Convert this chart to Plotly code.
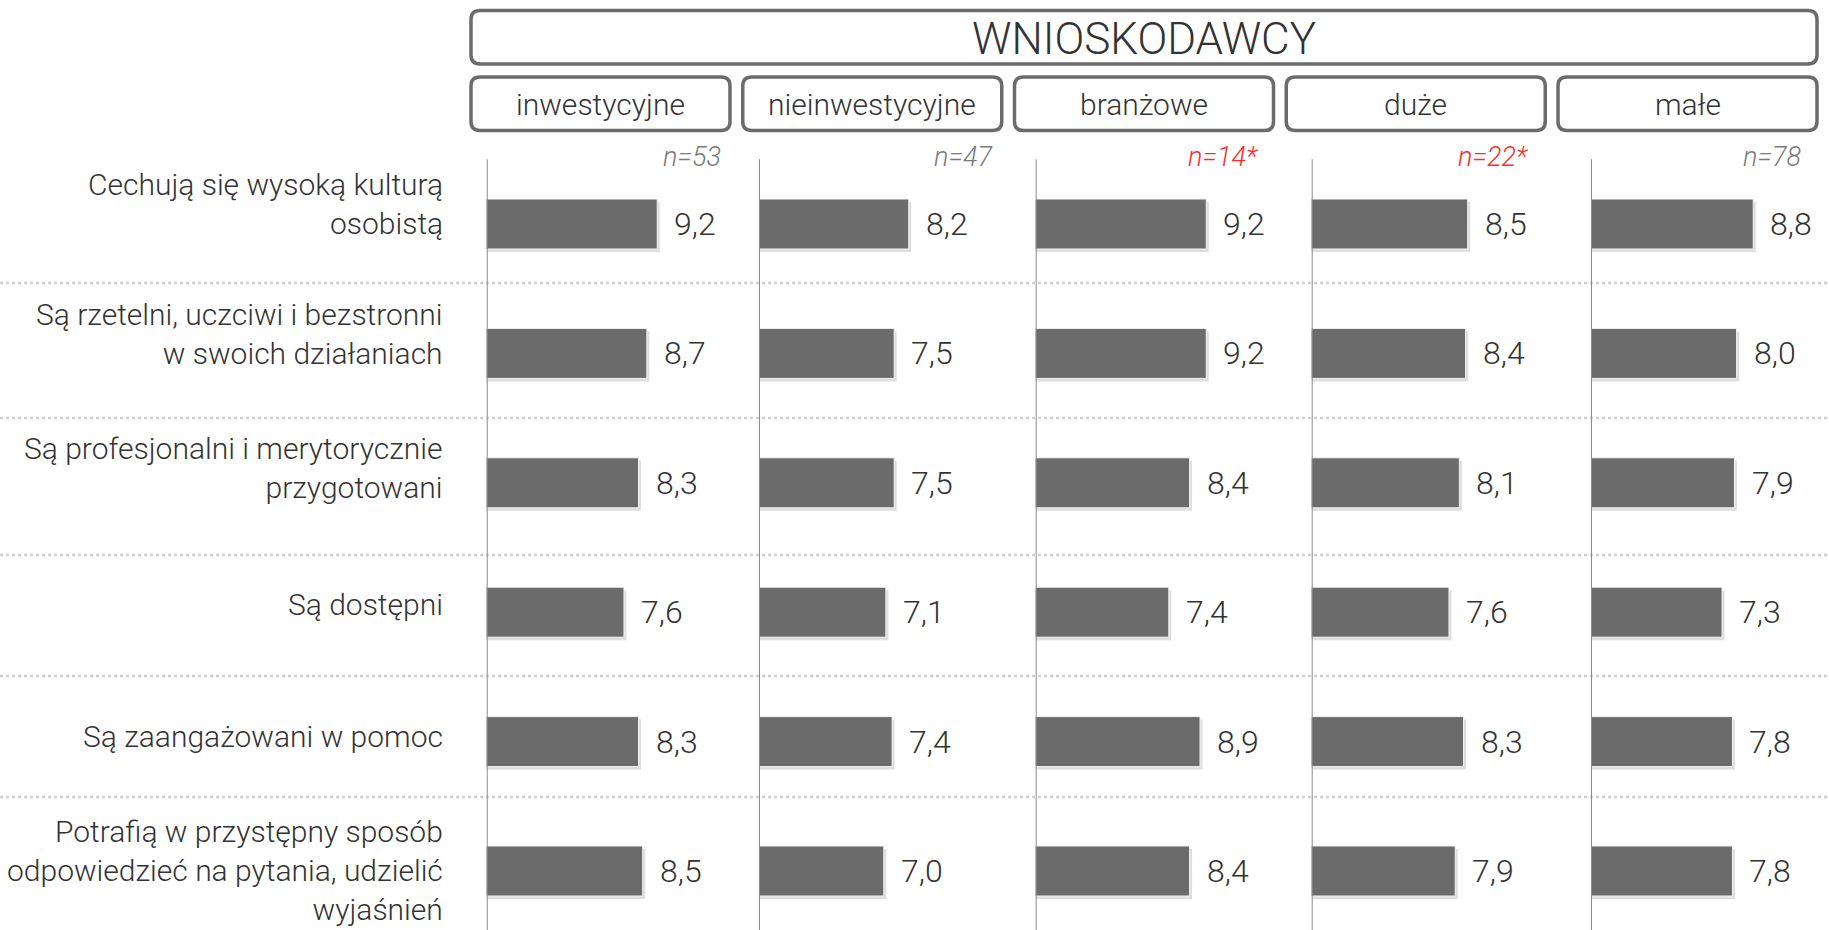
import plotly.graph_objects as go

W, H = 1829, 930

categories = [
    "Cechują się wysoką kulturą<br>osobistą",
    "Są rzetelni, uczciwi i bezstronni<br>w swoich działaniach",
    "Są profesjonalni i merytorycznie<br>przygotowani",
    "Są dostępni",
    "Są zaangażowani w pomoc",
    "Potrafią w przystępny sposób<br>odpowiedzieć na pytania, udzielić<br>wyjaśnień",
]
groups = ["inwestycyjne", "nieinwestycyjne", "branżowe", "duże", "małe"]
n_labels = ["n=53", "n=47", "n=14*", "n=22*", "n=78"]
n_small = [False, False, True, True, False]
header = "WNIOSKODAWCY"

inwestycyjne = [9.2, 8.7, 8.3, 7.6, 8.3, 8.5]
nieinwestycyjne = [8.2, 7.5, 7.5, 7.1, 7.4, 7.0]
branzowe = [9.2, 9.2, 8.4, 7.4, 8.9, 8.4]
duze = [8.5, 8.4, 8.1, 7.6, 8.3, 7.9]
male = [8.8, 8.0, 7.9, 7.3, 7.8, 7.8]
series = [inwestycyjne, nieinwestycyjne, branzowe, duze, male]

# ---- layout constants (pixels) ----
FONT = "Roboto"
TXT = "#333333"
BAR = "#6b6b6b"
AXIS_PX = [486.7, 759, 1035.7, 1311.7, 1591]
PANEL_W = 230
PX_PER_UNIT = 20.8
X0 = 1
ROW0_PX, ROW_STEP = 224, 129.4
SEP_POS = [0.456, 1.499, 2.558, 3.493, 4.428]
LABEL_RIGHT_PX = 445
LABEL_SHIFT = [20, 19, 15, 8, 5, 1]
N_RIGHT_PX = [723, 994, 1260, 1530, 1803]
N_Y_PX = 157
BIG_BOX = (471, 10.5, 1817, 64)
SUB_Y = (77, 130.6)
SUB_W, SUB_GAP = 259, 12.75

def px(x):
    return x / W

def py(y):
    return 1 - y / H

y_top = -ROW0_PX / ROW_STEP
y_bot = 5 + (H - (ROW0_PX + 5 * ROW_STEP)) / ROW_STEP
ypos = list(range(len(categories)))

fig = go.Figure()
layout = dict(
    width=W, height=H, margin=dict(l=0, r=0, t=0, b=0),
    paper_bgcolor="white", plot_bgcolor="rgba(0,0,0,0)",
    showlegend=False, barmode="overlay",
    font=dict(family=FONT, color=TXT),
    yaxis=dict(range=[y_bot, y_top], domain=[0, 1], visible=False, fixedrange=True),
)
shapes, annotations = [], []
bw = 50 / ROW_STEP

for i, vals in enumerate(series):
    xa = "x" if i == 0 else f"x{i+1}"
    key = "xaxis" if i == 0 else f"xaxis{i+1}"
    layout[key] = dict(
        domain=[px(AXIS_PX[i]), px(AXIS_PX[i] + PANEL_W)],
        range=[X0, X0 + PANEL_W / PX_PER_UNIT],
        visible=False, anchor="y", fixedrange=True,
    )
    # soft shadow
    fig.add_trace(go.Bar(
        x=[v + 2.5 / PX_PER_UNIT for v in vals], y=ypos, orientation="h",
        width=bw, offset=-bw / 2 + 3 / ROW_STEP,
        marker=dict(color="rgba(0,0,0,0.13)", line=dict(width=0)),
        xaxis=xa, yaxis="y", hoverinfo="skip",
    ))
    fig.add_trace(go.Bar(
        x=vals, y=ypos, orientation="h", width=bw,
        marker=dict(color=BAR, line=dict(color="#f4f4f4", width=1)),
        xaxis=xa, yaxis="y",
    ))
    for j, v in enumerate(vals):
        annotations.append(dict(
            x=v, y=j, xref=xa, yref="y", text=f"{v:.1f}".replace(".", ","),
            showarrow=False, xanchor="left", yanchor="middle", xshift=15,
            font=dict(size=32, color=TXT, family=FONT, weight=300),
        ))
    shapes.append(dict(
        type="line", xref=xa, yref="y", x0=X0, x1=X0, y0=-0.5, y1=y_bot,
        line=dict(color="#8c8c8c", width=2), layer="above",
    ))
    annotations.append(dict(
        x=px(N_RIGHT_PX[i]), y=py(N_Y_PX), xref="paper", yref="paper",
        text=f"<i>{n_labels[i]}</i>", showarrow=False, xanchor="right", yanchor="middle",
        font=dict(size=27, color="#ff2a2a" if n_small[i] else "#7a7a7a", family=FONT, weight=300),
    ))

for s in SEP_POS:
    shapes.append(dict(
        type="line", xref="paper", yref="y", x0=0, x1=1, y0=s, y1=s,
        line=dict(color="#cfcfcf", width=2.5, dash="3px,3px"), layer="below",
    ))

for j, c in enumerate(categories):
    annotations.append(dict(
        x=px(LABEL_RIGHT_PX), y=j, xref="paper", yref="y", text=c,
        showarrow=False, xanchor="right", yanchor="middle", align="right",
        yshift=LABEL_SHIFT[j],
        font=dict(size=30, color=TXT, family=FONT, weight=300),
    ))

def rrect(x0, y0, x1, y1, r=9):
    rx, ry = r / W, r / H
    X0p, X1p, Y0p, Y1p = px(x0), px(x1), py(y0), py(y1)
    return (f"M {X0p+rx},{Y0p} L {X1p-rx},{Y0p} Q {X1p},{Y0p} {X1p},{Y0p-ry} "
            f"L {X1p},{Y1p+ry} Q {X1p},{Y1p} {X1p-rx},{Y1p} L {X0p+rx},{Y1p} "
            f"Q {X0p},{Y1p} {X0p},{Y1p+ry} L {X0p},{Y0p-ry} Q {X0p},{Y0p} {X0p+rx},{Y0p} Z")

BOX_LINE = dict(color="#6b6b6b", width=3.5)
bx0, by0, bx1, by1 = BIG_BOX
shapes.append(dict(type="path", xref="paper", yref="paper", path=rrect(bx0, by0, bx1, by1),
                   line=BOX_LINE, fillcolor="white"))
annotations.append(dict(
    x=px((bx0 + bx1) / 2), y=py((by0 + by1) / 2 + 1.5), xref="paper", yref="paper",
    text=header, showarrow=False, xanchor="center", yanchor="middle",
    font=dict(size=44, color=TXT, family=FONT, weight=300),
))
for i, g in enumerate(groups):
    x0 = bx0 + i * (SUB_W + SUB_GAP)
    x1 = x0 + SUB_W
    shapes.append(dict(type="path", xref="paper", yref="paper", path=rrect(x0, SUB_Y[0], x1, SUB_Y[1]),
                       line=BOX_LINE, fillcolor="white"))
    annotations.append(dict(
        x=px((x0 + x1) / 2), y=py((SUB_Y[0] + SUB_Y[1]) / 2 + 1), xref="paper", yref="paper",
        text=g, showarrow=False, xanchor="center", yanchor="middle",
        font=dict(size=30, color=TXT, family=FONT, weight=300),
    ))

layout["shapes"] = shapes
layout["annotations"] = annotations
fig.update_layout(**layout)
fig.write_html("out.html")
